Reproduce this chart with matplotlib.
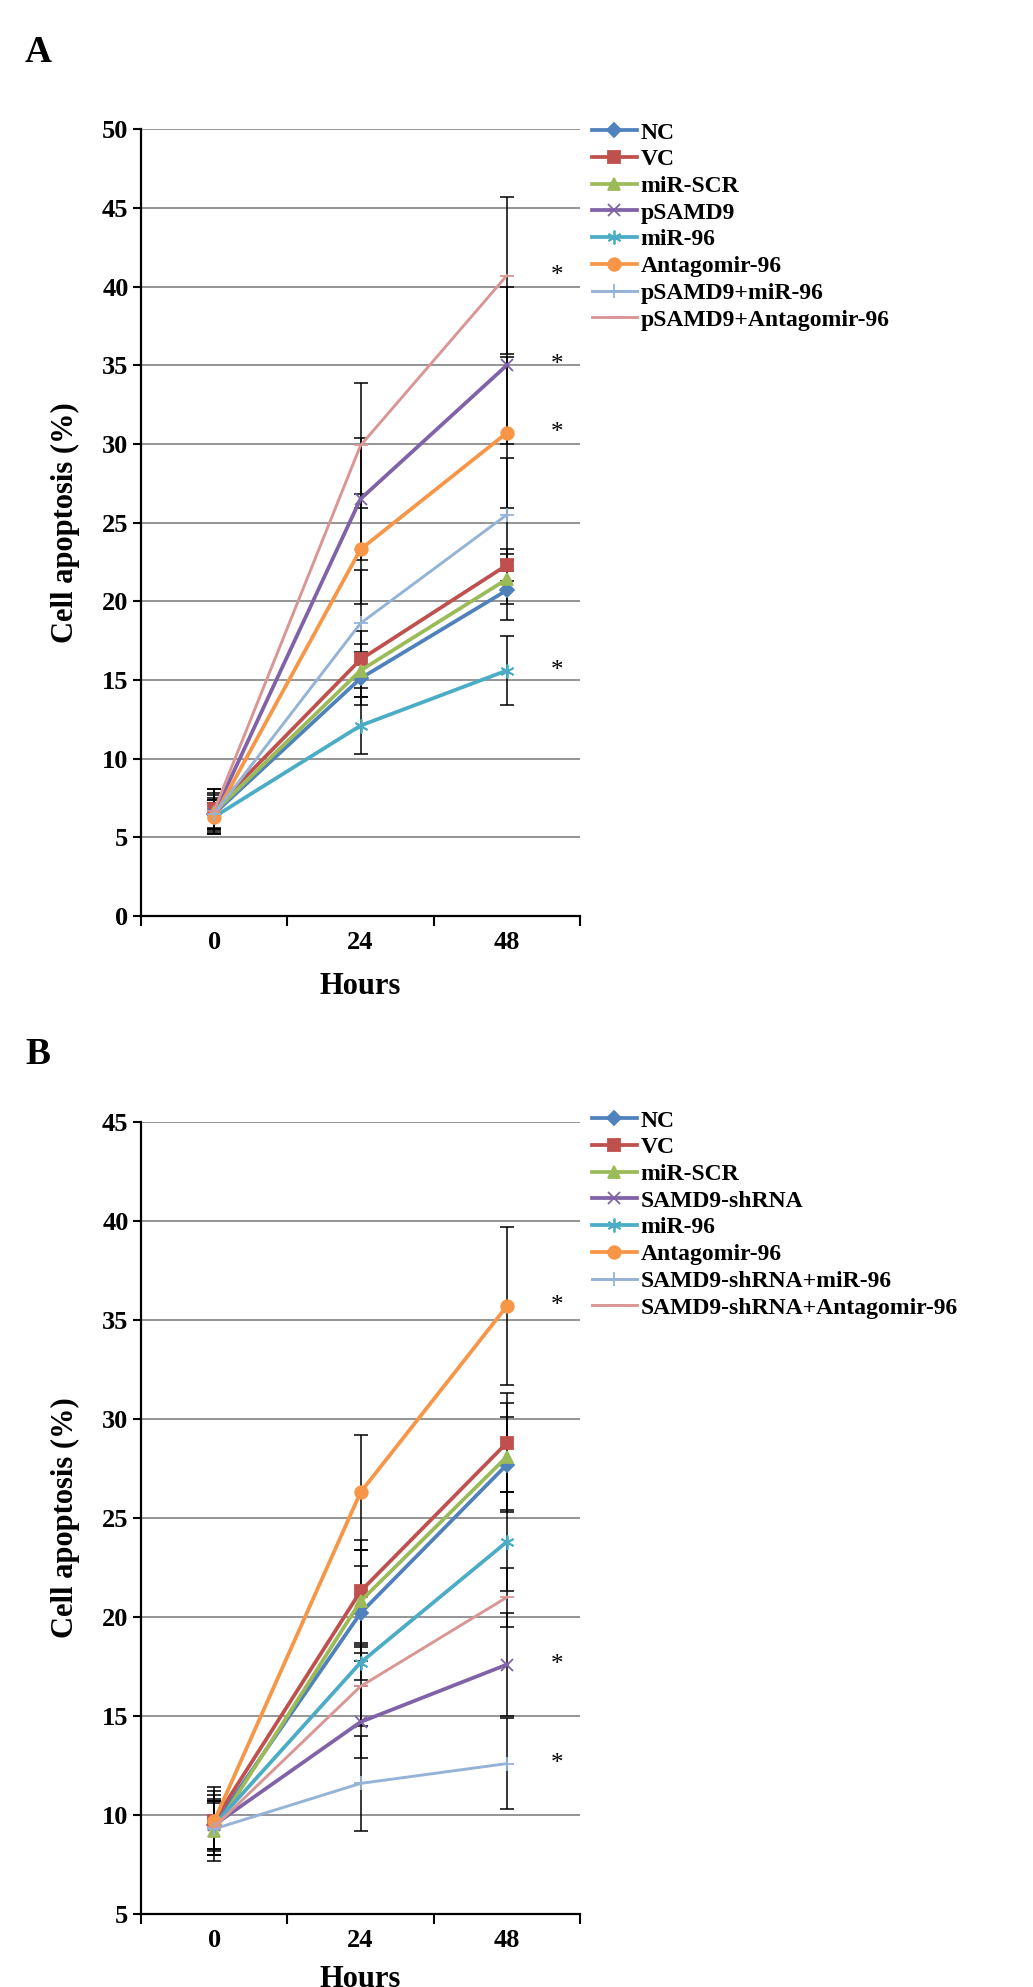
import numpy as np
import matplotlib
matplotlib.use("Agg")
import matplotlib.pyplot as plt

plt.rcParams['font.family'] = ['Liberation Serif', 'DejaVu Serif']
plt.rcParams['font.weight'] = 'bold'
plt.rcParams['axes.labelweight'] = 'bold'

###################### data ######################
hours = ['0', '24', '48']

labels_a = ['NC', 'VC', 'miR-SCR', 'pSAMD9', 'miR-96', 'Antagomir-96',
            'pSAMD9+miR-96', 'pSAMD9+Antagomir-96']
vals_a = [[6.5, 15.1, 20.7],
          [6.8, 16.3, 22.3],
          [6.6, 15.6, 21.4],
          [6.5, 26.5, 35.0],
          [6.3, 12.1, 15.6],
          [6.3, 23.3, 30.7],
          [6.5, 18.6, 25.5],
          [6.7, 29.9, 40.7]]
err_a = [[1.3, 1.7, 1.9],
         [1.3, 1.8, 1.0],
         [1.1, 1.7, 1.6],
         [0.9, 3.9, 5.0],
         [1.1, 1.8, 2.2],
         [0.9, 3.5, 4.8],
         [1.0, 3.4, 3.6],
         [1.4, 4.0, 5.0]]
star_a = ['pSAMD9', 'miR-96', 'Antagomir-96', 'pSAMD9+Antagomir-96']

labels_b = ['NC', 'VC', 'miR-SCR', 'SAMD9-shRNA', 'miR-96', 'Antagomir-96',
            'SAMD9-shRNA+miR-96', 'SAMD9-shRNA+Antagomir-96']
vals_b = [[9.5, 20.2, 27.7],
          [9.7, 21.3, 28.8],
          [9.2, 20.8, 28.1],
          [9.5, 14.7, 17.6],
          [9.5, 17.7, 23.8],
          [9.7, 26.3, 35.7],
          [9.3, 11.6, 12.6],
          [9.4, 16.5, 21.0]]
err_b = [[1.5, 2.4, 2.4],
         [1.7, 2.6, 2.5],
         [1.5, 2.6, 2.7],
         [1.2, 1.8, 2.6],
         [1.2, 0.9, 2.5],
         [1.5, 2.9, 4.0],
         [1.3, 2.4, 2.3],
         [1.4, 2.0, 1.5]]
star_b = ['SAMD9-shRNA', 'Antagomir-96', 'SAMD9-shRNA+miR-96']

# excel 2007 style series
colors = ['#4F81BD', '#C0504D', '#9BBB59', '#7F62A8', '#4BACC6', '#F79646',
          '#95B3D7', '#D99694']
markers = ['D', 's', '^', 'x', (6, 2, 0), 'o', '+', '_']
msizes = [7, 8, 9, 9, 10, 9, 10, 10]
lwidths = [2.7, 2.7, 2.7, 2.7, 2.7, 2.7, 2.1, 2.1]


def panel(ax, labels, vals, errs, stars, ylim, legend_y, xlabelpad):
    x = np.arange(len(hours))
    for i in range(len(labels)):
        ax.errorbar(x, vals[i], yerr=errs[i], fmt='none', ecolor='black',
                    elinewidth=1.1, capsize=5, capthick=1.1, zorder=2)
    for i, lab in enumerate(labels):
        ax.plot(x, vals[i], color=colors[i], lw=lwidths[i], marker=markers[i],
                markersize=msizes[i], markeredgewidth=1.3,
                markeredgecolor=colors[i], label=lab, zorder=3)
        if lab in stars:
            ax.text(x[-1] + 0.34, vals[i][-1], '*', fontsize=18,
                    fontweight='normal', va='center', ha='center')
    ax.set_xlim(-0.5, 2.5)
    ax.set_ylim(*ylim)
    ax.set_yticks(np.arange(ylim[0], ylim[1] + 1, 5))
    ax.yaxis.grid(True, color='#8c8c8c', lw=1.3)
    ax.set_axisbelow(True)
    ax.set_xticks(x)
    ax.set_xticklabels(hours)
    ax.set_xticks([-0.5, 0.5, 1.5, 2.5], minor=True)
    ax.tick_params(axis='x', which='major', length=0, labelsize=19, pad=11)
    ax.tick_params(axis='x', which='minor', length=7, width=1.5, direction='out')
    ax.tick_params(axis='y', length=6, width=1.5, labelsize=19, pad=3)
    for s in ['top', 'right']:
        ax.spines[s].set_visible(False)
    ax.spines['left'].set_linewidth(1.6)
    ax.spines['bottom'].set_linewidth(1.6)
    ax.set_ylabel('Cell apoptosis (%)', fontsize=22, labelpad=16)
    ax.set_xlabel('Hours', fontsize=22, labelpad=xlabelpad)
    ax.legend(loc='upper left', bbox_to_anchor=(0.573, legend_y),
              bbox_transform=plt.gcf().transFigure, frameon=False,
              fontsize=17, handlelength=1.9, handletextpad=0.15,
              labelspacing=0.22, borderaxespad=0, borderpad=0)


fig = plt.figure(figsize=(10.33, 19.87), dpi=100)
ax1 = fig.add_axes([0.1365, 0.539, 0.425, 0.396])
ax2 = fig.add_axes([0.1365, 0.0367, 0.425, 0.3986])

panel(ax1, labels_a, vals_a, err_a, star_a, (0, 50), 1 - 122 / 1987, 13)
panel(ax2, labels_b, vals_b, err_b, star_b, (5, 45), 1 - 1110 / 1987, 9)

fig.text(38 / 1033, 1 - 52 / 1987, 'A', fontsize=27, va='center', ha='center')
fig.text(38 / 1033, 1 - 1055 / 1987, 'B', fontsize=27, va='center', ha='center')

fig.savefig('out.png', dpi=100)
